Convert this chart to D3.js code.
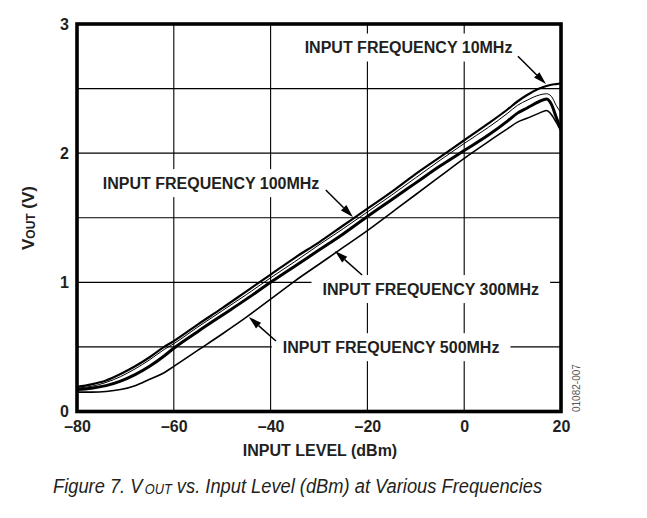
<!DOCTYPE html>
<html>
<head>
<meta charset="utf-8">
<title>VOUT vs. Input Level at Various Frequencies</title>
<style>
  body { margin: 0; background: #fff; }
  svg text { font-family: "Liberation Sans", Arial, sans-serif; fill: #231f20; }
</style>
</head>
<body>
<div id="chart"></div>
<script src="https://d3js.org/d3.v7.min.js"></script>
<script>
const inputLevel = [-80, -77, -74, -71, -68, -65, -62, -60, -55, -50, -45, -40, -35, -30, -25,
                    -20, -15, -10, -5, 0, 5, 9, 11, 13, 15.5, 17, 18, 19, 20];

// VOUT (V) for each input frequency
const vout10MHz  = [0.19, 0.21, 0.24, 0.29, 0.35, 0.42, 0.50, 0.545, 0.675, 0.80, 0.93, 1.06, 1.19, 1.31, 1.44,
                    1.57, 1.70, 1.84, 1.97, 2.10, 2.23, 2.34, 2.40, 2.45, 2.50, 2.52, 2.53, 2.535, 2.54];
const vout100MHz = [0.18, 0.195, 0.225, 0.27, 0.33, 0.40, 0.48, 0.525, 0.655, 0.78, 0.905, 1.035, 1.16, 1.29, 1.415,
                    1.545, 1.675, 1.81, 1.945, 2.075, 2.20, 2.31, 2.37, 2.41, 2.45, 2.46, 2.44, 2.37, 2.31];
const vout300MHz = [0.17, 0.18, 0.20, 0.235, 0.285, 0.35, 0.43, 0.49, 0.62, 0.745, 0.87, 1.00, 1.125, 1.25, 1.375,
                    1.51, 1.64, 1.77, 1.90, 2.02, 2.14, 2.25, 2.31, 2.35, 2.40, 2.42, 2.38, 2.28, 2.18];
const vout500MHz = [0.15, 0.15, 0.155, 0.17, 0.20, 0.25, 0.30, 0.35, 0.475, 0.60, 0.73, 0.87, 1.01, 1.14, 1.27,
                    1.40, 1.54, 1.68, 1.82, 1.96, 2.09, 2.19, 2.24, 2.27, 2.31, 2.33, 2.30, 2.24, 2.17];

const xTicks = [-80, -60, -40, -20, 0, 20];
const yTicks = [0, 1, 2, 3];
const yGrid = [0.5, 1, 1.5, 2, 2.5];

// Callout labels: centre of the text and arrow tail/head, in dBm and volts
const callouts = [
    {text: "INPUT FREQUENCY 10MHz",  x: -11.5, y: 2.82, from: [11.1, 2.75],  to: [16.9, 2.535]},
    {text: "INPUT FREQUENCY 100MHz", x: -52.3, y: 1.77, from: [-28.6, 1.715], to: [-23.0, 1.506]},
    {text: "INPUT FREQUENCY 300MHz", x: -6.9,  y: 0.95, from: [-21.1, 1.057], to: [-26.7, 1.242]},
    {text: "INPUT FREQUENCY 500MHz", x: -15.1, y: 0.50, from: [-38.9, 0.546], to: [-44.5, 0.732]}
];

const W = 647, H = 518;

const svg = d3.select("#chart").append("svg")
    .attr("width", W)
    .attr("height", H);

const x = d3.scaleLinear().domain([-80, 20]).range([77, 561]);
const y = d3.scaleLinear().domain([0, 3]).range([411.5, 24]);

// grid
svg.append("g")
    .selectAll("line")
    .data(xTicks.slice(1, -1))
    .join("line")
    .attr("x1", d => x(d)).attr("x2", d => x(d))
    .attr("y1", y(0)).attr("y2", y(3))
    .attr("stroke", "#000")
    .attr("stroke-width", 1.1);

svg.append("g")
    .selectAll("line")
    .data(yGrid)
    .join("line")
    .attr("x1", x(-80)).attr("x2", x(20))
    .attr("y1", d => y(d)).attr("y2", d => y(d))
    .attr("stroke", "#000")
    .attr("stroke-width", 1.1);

// callout texts (with white boxes that break the grid)
const labels = svg.append("g")
    .selectAll("g")
    .data(callouts)
    .join("g");

labels.append("rect").attr("fill", "#fff");

labels.append("text")
    .attr("x", d => x(d.x))
    .attr("y", d => y(d.y))
    .attr("dy", "0.36em")
    .attr("text-anchor", "middle")
    .style("font-size", "16px")
    .style("font-weight", "bold")
    .text(d => d.text);

labels.each(function() {
    const g = d3.select(this);
    const b = g.select("text").node().getBBox();
    const cy = b.y + b.height / 2;
    g.select("rect")
        .attr("x", b.x - 11)
        .attr("y", cy - 14)
        .attr("width", b.width + 22)
        .attr("height", 28);
});

// curves
const line = d3.line()
    .x((d, i) => x(inputLevel[i]))
    .y(d => y(d))
    .curve(d3.curveMonotoneX);

const curves = [
    {values: vout10MHz,  width: 2.2},
    {values: vout100MHz, width: 1},
    {values: vout300MHz, width: 3},
    {values: vout500MHz, width: 1.6}
];

svg.append("g")
    .selectAll("path")
    .data(curves)
    .join("path")
    .attr("d", d => line(d.values))
    .attr("fill", "none")
    .attr("stroke", "#000")
    .attr("stroke-width", d => d.width)
    .attr("stroke-linejoin", "round");

// arrows
const arrows = svg.append("g");
callouts.forEach(c => {
    const x1 = x(c.from[0]), y1 = y(c.from[1]);
    const x2 = x(c.to[0]), y2 = y(c.to[1]);
    const a = Math.atan2(y2 - y1, x2 - x1);
    const len = 13, half = 3.8;
    const bx = x2 - len * Math.cos(a), by = y2 - len * Math.sin(a);
    arrows.append("line")
        .attr("x1", x1).attr("y1", y1)
        .attr("x2", bx).attr("y2", by)
        .attr("stroke", "#000")
        .attr("stroke-width", 1.5);
    arrows.append("path")
        .attr("d", `M${x2},${y2}L${bx - half * Math.sin(a)},${by + half * Math.cos(a)}L${bx + half * Math.sin(a)},${by - half * Math.cos(a)}Z`)
        .attr("fill", "#000");
});

// frame
svg.append("rect")
    .attr("x", x(-80)).attr("y", y(3))
    .attr("width", x(20) - x(-80))
    .attr("height", y(0) - y(3))
    .attr("fill", "none")
    .attr("stroke", "#000")
    .attr("stroke-width", 3.6);

// axes
const xAxis = svg.append("g")
    .attr("transform", `translate(0,${y(0)})`)
    .call(d3.axisBottom(x).tickValues(xTicks).tickSize(0).tickPadding(9)
        .tickFormat(d => d < 0 ? "\u2013" + (-d) : d));

const yAxis = svg.append("g")
    .attr("transform", `translate(${x(-80)},0)`)
    .call(d3.axisLeft(y).tickValues(yTicks).tickSize(0).tickPadding(8)
        .tickFormat(d3.format("d")));

[xAxis, yAxis].forEach(g => {
    g.select(".domain").remove();
    g.selectAll("text")
        .style("font-size", "16px")
        .style("font-weight", "bold")
        .style("font-family", "'Liberation Sans', Arial, sans-serif")
        .attr("fill", "#231f20");
});

// axis titles
svg.append("text")
    .attr("x", 320)
    .attr("y", 456)
    .attr("text-anchor", "middle")
    .style("font-size", "16px")
    .style("font-weight", "bold")
    .text("INPUT LEVEL (dBm)");

const yTitle = svg.append("text")
    .attr("transform", "translate(34,218) rotate(-90)")
    .attr("text-anchor", "middle")
    .style("font-size", "17px")
    .style("font-weight", "bold");
yTitle.append("tspan").text("V");
yTitle.append("tspan").style("font-size", "12px").attr("dy", 1).text("OUT");
yTitle.append("tspan").attr("dy", -1).text(" (V)");

// figure number
svg.append("text")
    .attr("transform", "translate(580,412) rotate(-90)")
    .style("font-size", "10px")
    .style("fill", "#555")
    .text("01082-007");

// caption (squeezed horizontally like the condensed original face)
const caption = svg.append("text")
    .attr("transform", "translate(53,493) scale(0.915,1)")
    .style("font-size", "20px")
    .style("font-style", "italic")
    .style("fill", "#231f20");
caption.append("tspan").text("Figure 7. V");
caption.append("tspan").style("font-size", "14px").attr("dx", 2.5).attr("dy", 1).text("OUT");
caption.append("tspan").attr("dy", -1).text(" vs. Input Level (dBm) at Various Frequencies");
</script>
</body>
</html>
